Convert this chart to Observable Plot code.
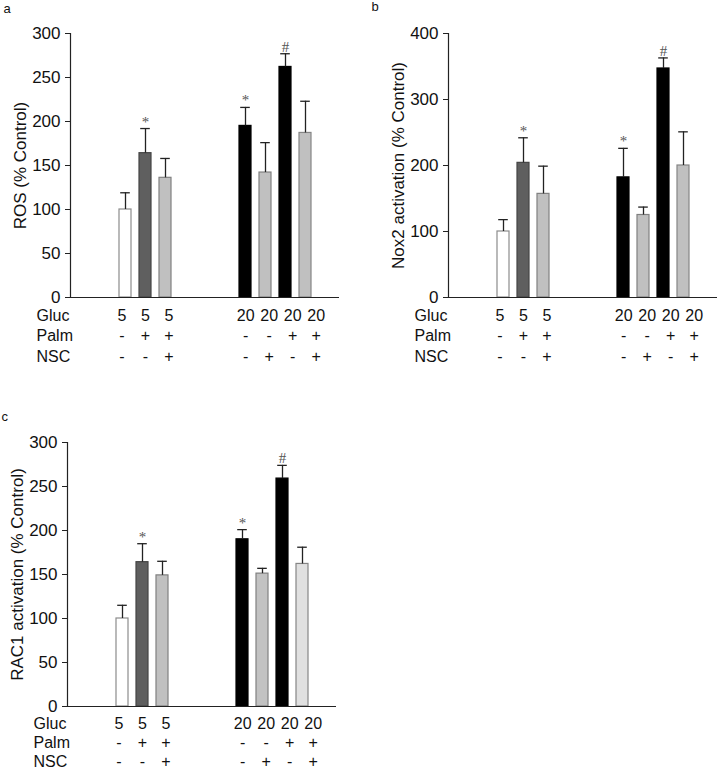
<!DOCTYPE html>
<html>
<head>
<meta charset="utf-8">
<script src="https://cdn.jsdelivr.net/npm/d3@7"></script>
<script src="https://cdn.jsdelivr.net/npm/@observablehq/plot@0.6"></script>
<style>
  body { margin: 0; background: #fff; overflow: hidden; }
  #fig { position: relative; width: 718px; height: 770px; overflow: hidden; background: #fff; }
  .panel { position: absolute; width: 359px; height: 375px; }
  .panel svg { overflow: visible; max-width: none !important; }
</style>
</head>
<body>
<div id="fig"></div>
<script>
// ---- data ----
const conditions = ["G5", "G5P", "G5PN", "G20", "G20N", "G20P", "G20PN"];
const group = [1, 1, 1, 2, 2, 2, 2];
const gluc = ["5", "5", "5", "20", "20", "20", "20"];
const palm = ["-", "+", "+", "-", "-", "+", "+"];
const nsc = ["-", "-", "+", "-", "+", "-", "+"];
const rowNames = ["Gluc", "Palm", "NSC"];

const rosMean = [100, 164, 136, 195, 142, 262, 187];
const rosSem = [19, 28, 22, 21, 34, 15, 36];
const rosSig = ["", "*", "", "*", "", "#", ""];

const nox2Mean = [100, 204, 157, 182, 125, 347, 200];
const nox2Sem = [18, 38, 42, 44, 12, 16, 51];
const nox2Sig = ["", "*", "", "*", "", "#", ""];

const rac1Mean = [100, 164, 149, 190, 151, 259, 162];
const rac1Sem = [15, 21, 16, 11, 6, 15, 19];
const rac1Sig = ["", "*", "", "*", "", "#", ""];

// ---- styles ----
const fillsAB = ["#ffffff", "#5f5f5f", "#c0c0c0", "#000000", "#c0c0c0", "#000000", "#c0c0c0"];
const fillsC  = ["#ffffff", "#5f5f5f", "#c0c0c0", "#000000", "#c2c2c2", "#000000", "#e0e0e0"];
const strokes = ["#8c8c8c", "#454545", "#808080", "#000000", "#808080", "#000000", "#858585"];

function panel({label, yLabel, mean, sem, sig, yMax, yStep, fills, left, top, labelDx, labelDy, rowDy}) {
  const data = conditions.map((c, i) => ({
    c, i, group: group[i], gluc: gluc[i], palm: palm[i], nsc: nsc[i],
    mean: mean[i], top: mean[i] + sem[i], sig: sig[i],
    fill: fills[i], stroke: strokes[i]
  }));
  const g1 = conditions.filter((c, i) => group[i] === 1);
  const g2 = conditions.filter((c, i) => group[i] === 2);
  const domain = ["_l1", "_l2", ...g1, "_m1", "_m2", "_m3", ...g2, "_r1"];

  // label spread within each group (text columns are slightly wider than bar spacing)
  const rowMarks = [];
  const rowKeys = ["gluc", "palm", "nsc"];
  rowKeys.forEach((k, r) => {
    data.forEach(d => {
      const members = data.filter(e => e.group === d.group);
      const pos = members.indexOf(d) - (members.length - 1) / 2;
      const shift = d.group === 2 ? 5.5 : 0;
      rowMarks.push(Plot.text([d], {
        x: "c", text: k, frameAnchor: "bottom", lineAnchor: "middle", dy: rowDy[r],
        dx: pos * 3.5 + shift, fontSize: 16, fill: "#111"
      }));
    });
    rowMarks.push(Plot.text([rowNames[r]], {
      frameAnchor: "bottom-left", lineAnchor: "middle", textAnchor: "start", dx: -34, dy: rowDy[r],
      fontSize: 16, fill: "#111"
    }));
  });

  const svg = Plot.plot({
    width: 359,
    height: 375,
    marginLeft: 70,
    marginRight: 20,
    marginTop: 33,
    marginBottom: 78,
    style: {fontFamily: "'Liberation Sans', Arial, sans-serif", fontSize: "17px", color: "#111", background: "transparent", maxWidth: "none", overflow: "visible"},
    x: {domain, paddingInner: 0.4, paddingOuter: 0.2, axis: null},
    y: {domain: [0, yMax], axis: null},
    marks: [
      Plot.barY(data, {x: "c", y: "mean", fill: d => d.fill, stroke: d => d.stroke, strokeWidth: 1.2}),
      Plot.ruleX(data, {x: "c", y1: "mean", y2: "top", stroke: "#222", strokeWidth: 1.3}),
      Plot.tickY(data, {x: "c", y: "top", stroke: "#222", strokeWidth: 1.3, insetLeft: 1.2, insetRight: 1.2}),
      Plot.text(data.filter(d => d.sig), {
        x: "c", y: "top", text: "sig", lineAnchor: "bottom", dy: -2,
        fontFamily: "'Liberation Serif', 'Times New Roman', serif", fontSize: 15, fill: "#555"
      }),
      Plot.axisY({ticks: d3.range(0, yMax + 1, yStep), tickSize: 5, tickPadding: 5, label: null, fontSize: 17, stroke: "#222"}),
      Plot.ruleY([0], {stroke: "#222", strokeWidth: 1.2}),
      Plot.frame({anchor: "left", stroke: "#222", strokeWidth: 1.2}),
      Plot.text([yLabel], {frameAnchor: "left", textAnchor: "middle", lineAnchor: "middle", rotate: -90, dx: -50, fontSize: 17, fill: "#111"}),
      Plot.text([label], {frameAnchor: "top-left", textAnchor: "start", lineAnchor: "bottom", dx: labelDx, dy: labelDy, fontSize: 13, fill: "#111"}),
      ...rowMarks
    ]
  });
  const div = document.createElement("div");
  div.className = "panel";
  div.style.left = left + "px";
  div.style.top = top + "px";
  div.appendChild(svg);
  document.getElementById("fig").appendChild(div);
}

panel({label: "a", yLabel: "ROS (% Control)", mean: rosMean, sem: rosSem, sig: rosSig,
       yMax: 300, yStep: 50, fills: fillsAB, left: 0, top: 0, labelDx: -67, labelDy: -21, rowDy: [18, 38.5, 59]});
panel({label: "b", yLabel: "Nox2 activation (% Control)", mean: nox2Mean, sem: nox2Sem, sig: nox2Sig,
       yMax: 400, yStep: 100, fills: fillsAB, left: 378, top: 0, labelDx: -77, labelDy: -23, rowDy: [18, 38.5, 59]});
panel({label: "c", yLabel: "RAC1 activation (% Control)", mean: rac1Mean, sem: rac1Sem, sig: rac1Sig,
       yMax: 300, yStep: 50, fills: fillsC, left: -3, top: 409, labelDx: -66, labelDy: -22, rowDy: [17, 36.5, 55.5]});
</script>
</body>
</html>
